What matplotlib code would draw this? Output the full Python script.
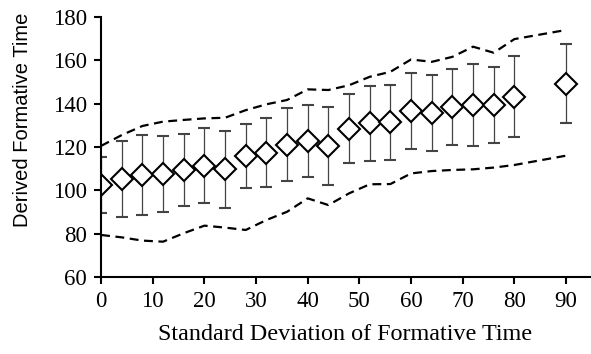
import matplotlib
matplotlib.use('Agg')
import matplotlib.pyplot as plt

# Data
sd = [0, 4, 8, 12, 16, 20, 24, 28, 32, 36, 40, 44, 48, 52, 56, 60, 64, 68, 72, 76, 80, 90]
derived = [102.5, 105.2, 107.1, 107.5, 109.4, 111.4, 109.8, 116.0, 117.4, 121.0, 122.6, 120.5,
           128.4, 130.9, 131.5, 136.5, 135.5, 138.6, 139.4, 139.4, 143.2, 149.2]
err = [13.0, 17.5, 18.6, 17.5, 16.5, 17.4, 17.8, 14.7, 16.0, 16.8, 16.6, 17.9,
       16.0, 17.3, 17.3, 17.5, 17.5, 17.6, 18.8, 17.4, 18.8, 18.3]
upper = [120.5, 125.5, 129.7, 131.7, 132.5, 133.2, 133.5, 137.0, 139.7, 141.7, 146.6, 146.3,
         148.5, 152.4, 154.7, 160.4, 159.3, 161.6, 166.3, 163.5, 169.8, 174.0]
lower = [79.4, 78.3, 76.8, 76.3, 80.2, 83.7, 82.8, 81.7, 86.3, 90.1, 96.3, 93.2,
         98.6, 102.8, 102.9, 107.8, 108.9, 109.4, 109.7, 110.5, 111.7, 116.0]
xticks = [0, 10, 20, 30, 40, 50, 60, 70, 80, 90]
yticks = [60, 80, 100, 120, 140, 160, 180]

fig = plt.figure(figsize=(5.91, 3.54), dpi=100)
ax = fig.add_axes([0.171, 0.2175, 0.827, 0.7345])

ax.plot(sd, upper, color='black', linestyle=(0, (4, 2.5)), linewidth=1.6)
ax.plot(sd, lower, color='black', linestyle=(0, (4, 2.5)), linewidth=1.6)
ax.errorbar(sd, derived, yerr=err, fmt='D', color='#333333', ecolor='#444444',
            elinewidth=0.9, capsize=4, capthick=0.9,
            markersize=11, markerfacecolor='white', markeredgecolor='black',
            markeredgewidth=1.5)

ax.set_xlim(0, 94.6)
ax.set_ylim(60, 180)
ax.set_xticks(xticks)
ax.set_yticks(yticks)

for side in ['top', 'right']:
    ax.spines[side].set_visible(False)
for side in ['left', 'bottom']:
    ax.spines[side].set_linewidth(1.5)
ax.tick_params(direction='out', length=5, width=1.5, labelsize=16.5, pad=5)
for lbl in ax.get_xticklabels() + ax.get_yticklabels():
    lbl.set_fontfamily('Liberation Serif')

ax.set_xlabel('Standard Deviation of Formative Time', fontsize=17.4,
              fontfamily='Liberation Serif')
ax.xaxis.set_label_coords(0.499, -0.18)
ax.set_ylabel('Derived Formative Time', fontsize=14.5,
              fontfamily='Liberation Sans')
ax.yaxis.set_label_coords(-0.141, 0.605)

fig.savefig('out.png', dpi=100)
